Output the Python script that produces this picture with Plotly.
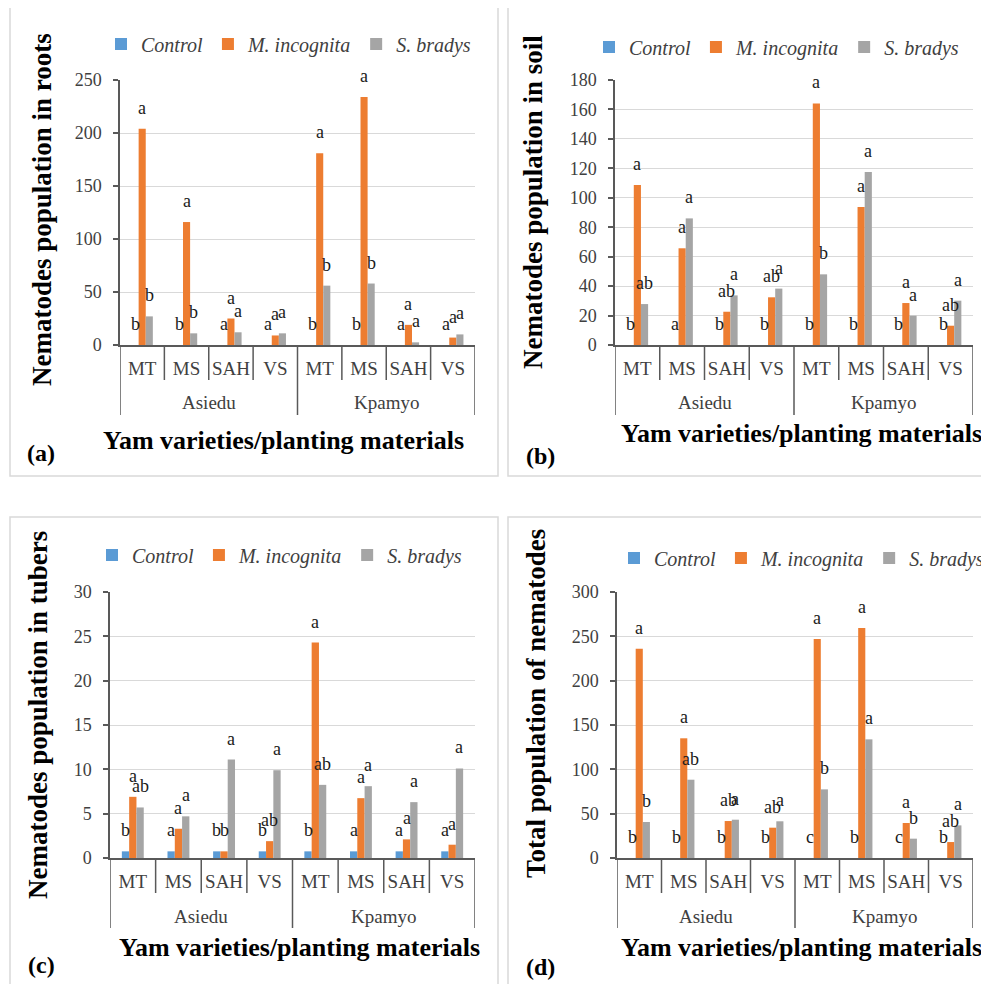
import plotly.graph_objects as go

# ---------------- data ----------------
groups = ["Asiedu", "Kpamyo"]
materials = ["MT", "MS", "SAH", "VS", "MT", "MS", "SAH", "VS"]
series_names = ["Control", "M. incognita", "S. bradys"]
colors = ["#5B9BD5", "#ED7D31", "#A5A5A5"]

# (a) roots
roots_control = [0, 0, 0, 0, 0, 0, 0, 0]
roots_minc = [204, 116, 25, 9, 181, 234, 19, 7]
roots_sbrad = [27, 11, 12, 11, 56, 58, 2.5, 10]
roots_let_control = ["b", "b", "a", "a", "b", "b", "a", "a"]
roots_let_minc = ["a", "a", "a", "a", "a", "a", "a", "a"]
roots_let_sbrad = ["b", "b", "a", "a", "b", "b", "a", "a"]

# (b) soil
soil_control = [0, 0, 0, 0, 0, 0, 0, 0]
soil_minc = [108.7, 65.7, 22.6, 32.4, 164.1, 93.7, 28.5, 13.1]
soil_sbrad = [27.8, 86, 33.7, 38.3, 48, 117.5, 19.9, 30.1]
soil_let_control = ["b", "a", "b", "b", "b", "b", "b", "b"]
soil_let_minc = ["a", "a", "ab", "ab", "a", "a", "a", "ab"]
soil_let_sbrad = ["ab", "a", "a", "a", "b", "a", "a", "a"]

# (c) tubers
tubers_control = [0.75, 0.75, 0.75, 0.75, 0.75, 0.75, 0.75, 0.75]
tubers_minc = [6.9, 3.3, 0.75, 1.9, 24.3, 6.75, 2.1, 1.5]
tubers_sbrad = [5.7, 4.7, 11.1, 9.9, 8.25, 8.1, 6.3, 10.1]
tubers_let_control = ["b", "a", "b", "b", "b", "a", "a", "a"]
tubers_let_minc = ["a", "a", "b", "ab", "a", "a", "a", "a"]
tubers_let_sbrad = ["ab", "a", "a", "a", "ab", "a", "a", "a"]

# (d) total
total_control = [0, 0, 0, 0, 0, 0, 0, 0]
total_minc = [236, 135, 41.7, 34.2, 247, 259.4, 39.5, 18]
total_sbrad = [40.6, 88.3, 43.2, 41.4, 77.4, 133.8, 21.8, 36.8]
total_let_control = ["b", "b", "b", "b", "c", "b", "c", "b"]
total_let_minc = ["a", "a", "ab", "ab", "a", "a", "a", "ab"]
total_let_sbrad = ["b", "ab", "a", "a", "b", "a", "b", "a"]

# ---------------- layout helpers ----------------
PAGE_W, PAGE_H = 989, 984
OFF = 8  # default page body margin
W, H = PAGE_W - OFF, PAGE_H - OFF


def px(x):
    return (x - OFF) / W


def py(y):
    return 1 - (y - OFF) / H


SERIF = "Liberation Serif, Times New Roman, serif"
AXC = "#595959"
TXC = "#404040"
BAR_W = 0.16

panels = [
    dict(vals=(roots_control, roots_minc, roots_sbrad),
         lets=(roots_let_control, roots_let_minc, roots_let_sbrad),
         xd=(120, 475), yd=(80, 345), ymax=250, dtick=50,
         ytitle="Nematodes population in roots", ytpos=(42, 210),
         xtpos=(283, 440), lab="(a)", labpos=(41, 453),
         leg=(101, 44, "left"), box=(10, 7, 498, 476)),
    dict(vals=(soil_control, soil_minc, soil_sbrad),
         lets=(soil_let_control, soil_let_minc, soil_let_sbrad),
         xd=(615, 973), yd=(80, 345), ymax=180, dtick=20,
         ytitle="Nematodes population in soil", ytpos=(533, 202),
         xtpos=(801, 433), lab="(b)", labpos=(540, 456),
         leg=(589, 47, "left"), box=(508, 7, 1000, 476)),
    dict(vals=(tubers_control, tubers_minc, tubers_sbrad),
         lets=(tubers_let_control, tubers_let_minc, tubers_let_sbrad),
         xd=(110, 475), yd=(592, 858), ymax=30, dtick=5,
         ytitle="Nematodes population in tubers", ytpos=(38, 715),
         xtpos=(299, 947), lab="(c)", labpos=(41, 965),
         leg=(92, 555, "left"), box=(10, 517, 498, 1000)),
    dict(vals=(total_control, total_minc, total_sbrad),
         lets=(total_let_control, total_let_minc, total_let_sbrad),
         xd=(617, 973), yd=(592, 858), ymax=300, dtick=50,
         ytitle="Total population of nematodes", ytpos=(536, 704),
         xtpos=(801, 947), lab="(d)", labpos=(540, 967),
         leg=(PAGE_W, 558, "right"), box=(508, 517, 1000, 1000)),
]

fig = go.Figure()
shapes = []
annotations = []
layout_upd = {}

xpos = list(range(len(materials)))

for p_i, p in enumerate(panels):
    n = "" if p_i == 0 else str(p_i + 1)
    xa, ya = "x" + n, "y" + n
    legname = "legend" + n
    for k in range(3):
        fig.add_trace(go.Bar(
            x=xpos, y=p["vals"][k], name="<i>" + series_names[k] + "</i>",
            marker=dict(color=colors[k], line=dict(width=0)),
            xaxis=xa, yaxis=ya, legend=legname, hoverinfo="skip",
        ))
        # significance letters above each bar
        for i, (v, t) in enumerate(zip(p["vals"][k], p["lets"][k])):
            annotations.append(dict(
                x=xpos[i] + (k - 1) * BAR_W, y=v, xref=xa, yref=ya,
                text=t, showarrow=False, yanchor="bottom", xanchor="center",
                yshift=9, font=dict(family=SERIF, size=18, color="#1a1a1a"),
            ))

    x0, x1 = p["xd"]
    y0, y1 = p["yd"]
    layout_upd["xaxis" + n] = dict(
        domain=[px(x0), px(x1)], anchor=ya, range=[-0.5, len(materials) - 0.5],
        tickvals=xpos, ticktext=materials, ticks="", showgrid=False,
        zeroline=False, showline=True, linecolor=AXC, linewidth=1.5,
        tickfont=dict(family=SERIF, size=19, color=TXC), ticklabelstandoff=5,
        fixedrange=True, automargin=False,
    )
    layout_upd["yaxis" + n] = dict(
        domain=[py(y1), py(y0)], anchor=xa, range=[0, p["ymax"]],
        dtick=p["dtick"], showgrid=True, gridcolor="#D9D9D9", gridwidth=1,
        zeroline=False, showline=True, linecolor=AXC, linewidth=1.5,
        ticks="outside", ticklen=5, tickcolor=AXC, tickwidth=1.5,
        tickfont=dict(family=SERIF, size=18, color=TXC), ticklabelstandoff=8,
        fixedrange=True, automargin=False,
    )
    lx, ly, lanchor = p["leg"]
    layout_upd[legname] = dict(
        orientation="h", x=min(px(lx), 1.0), y=py(ly), xanchor=lanchor,
        yanchor="middle",
        font=dict(family=SERIF, size=20, color=TXC), bgcolor="rgba(0,0,0,0)",
        traceorder="normal",
    )

    # category dividers under the axis
    bottom = y1
    nb = len(materials)
    for b in range(nb + 1):
        xb = b - 0.5
        outer = b in (0, nb // 2, nb)
        shapes.append(dict(
            type="line", xref=xa, yref="paper", x0=xb, x1=xb,
            y0=py(bottom), y1=py(bottom + (70 if outer else 35)),
            line=dict(color=AXC, width=1.5),
        ))
    # group labels
    for g_i, g in enumerate(groups):
        annotations.append(dict(
            x=g_i * (nb // 2) + (nb // 2 - 1) / 2, y=py(bottom + 58),
            xref=xa, yref="paper", text=g, showarrow=False,
            font=dict(family=SERIF, size=19, color=TXC),
            xanchor="center", yanchor="middle",
        ))
    # axis titles
    annotations.append(dict(
        x=px(p["ytpos"][0]), y=py(p["ytpos"][1]), xref="paper", yref="paper",
        text="<b>" + p["ytitle"] + "</b>", showarrow=False, textangle=-90,
        font=dict(family=SERIF, size=27, color="black"),
        xanchor="center", yanchor="middle",
    ))
    annotations.append(dict(
        x=px(p["xtpos"][0]), y=py(p["xtpos"][1]), xref="paper", yref="paper",
        text="<b>Yam varieties/planting materials</b>", showarrow=False,
        font=dict(family=SERIF, size=26, color="black"),
        xanchor="center", yanchor="middle",
    ))
    annotations.append(dict(
        x=px(p["labpos"][0]), y=py(p["labpos"][1]), xref="paper", yref="paper",
        text="<b>" + p["lab"] + "</b>", showarrow=False,
        font=dict(family=SERIF, size=24, color="black"),
        xanchor="center", yanchor="middle",
    ))
    # panel frame
    bx0, by0, bx1, by1 = p["box"]
    shapes.append(dict(
        type="rect", xref="paper", yref="paper",
        x0=px(bx0), x1=px(bx1), y0=py(by1), y1=py(by0),
        line=dict(color="#D9D9D9", width=1.5), fillcolor="rgba(0,0,0,0)",
        layer="below",
    ))

fig.update_layout(
    width=W, height=H, margin=dict(l=0, r=0, t=0, b=0, autoexpand=False),
    paper_bgcolor="white", plot_bgcolor="white",
    barmode="group", bargap=0.52, bargroupgap=0,
    shapes=shapes, annotations=annotations, showlegend=True,
    **layout_upd,
)

fig.write_html("out.html")
